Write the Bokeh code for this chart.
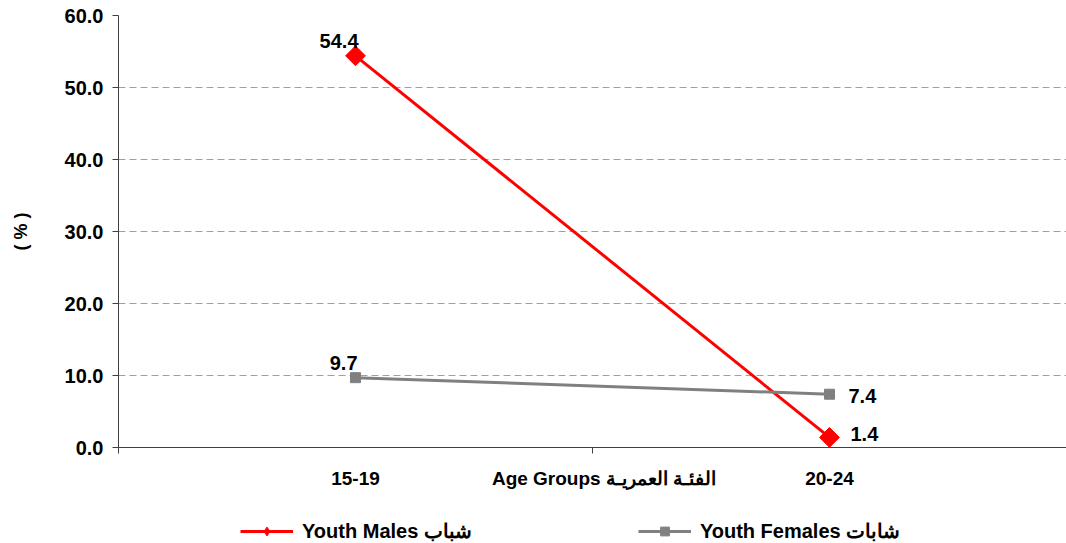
import math
from bokeh.plotting import figure
from bokeh.layouts import column
from bokeh.models import Range1d, FixedTicker, Label, Legend, LegendItem, NumeralTickFormatter
from bokeh.embed import file_html
from bokeh.resources import INLINE

categories = ["15-19", "20-24"]
males = [54.4, 1.4]
females = [9.7, 7.4]
y_ticks = [0, 10, 20, 30, 40, 50, 60]
x_title = "Age Groups  الفئـة العمريـة"
y_title = "( % )"
males_name = "Youth Males شباب"
females_name = "Youth Females شابات"

FONT = "Liberation Sans"
RED = "#FF0000"
GREY = "#808080"
x = [i + 0.5 for i in range(len(categories))]
bounds = list(range(len(categories) + 1))
title_pos = len(categories) / 2 + 0.03

p = figure(width=1066, height=503, output_backend="svg", toolbar_location=None,
           x_range=Range1d(0, len(categories)), y_range=Range1d(0, 60),
           min_border_left=118, min_border_top=15, min_border_right=0, min_border_bottom=56)
p.outline_line_color = None

# y axis
p.yaxis.ticker = FixedTicker(ticks=y_ticks)
p.yaxis.formatter = NumeralTickFormatter(format="0.0")
p.yaxis.axis_label = y_title
p.yaxis.axis_label_text_font = FONT
p.yaxis.axis_label_text_font_style = "bold"
p.yaxis.axis_label_text_font_size = "18px"
p.yaxis.axis_label_text_color = "black"
p.yaxis.axis_label_standoff = 31
p.yaxis.major_label_text_font = FONT
p.yaxis.major_label_text_font_style = "bold"
p.yaxis.major_label_text_font_size = "20px"
p.yaxis.major_label_text_color = "black"
p.yaxis.major_label_standoff = 9
p.yaxis.major_tick_out = 6
p.yaxis.major_tick_in = 0
p.yaxis.minor_tick_line_color = None
p.yaxis.axis_line_color = "#404040"
p.yaxis.major_tick_line_color = "#404040"

# x axis: category labels plus the axis title in the same row
p.xaxis.ticker = FixedTicker(ticks=x + [title_pos], minor_ticks=bounds)
overrides = {xi: c for xi, c in zip(x, categories)}
overrides[title_pos] = x_title
p.xaxis.major_label_overrides = overrides
p.xaxis.major_label_text_font = FONT
p.xaxis.major_label_text_font_style = "bold"
p.xaxis.major_label_text_font_size = "19px"
p.xaxis.major_label_text_color = "black"
p.xaxis.major_label_standoff = 14
p.xaxis.major_tick_out = 0
p.xaxis.major_tick_in = 0
p.xaxis.minor_tick_out = 6
p.xaxis.minor_tick_in = 0
p.xaxis.minor_tick_line_color = "#404040"
p.xaxis.axis_line_color = "#404040"

# grid
p.xgrid.grid_line_color = None
p.ygrid.ticker = FixedTicker(ticks=y_ticks[1:])
p.ygrid.grid_line_color = "#A0A0A0"
p.ygrid.grid_line_dash = "7 4"
p.ygrid.grid_line_width = 1

# series
def draw(fig, male_marker="square", male_angle=math.pi / 4):
    rm = fig.line(x, males, line_color=RED, line_width=3)
    sm = fig.scatter(x, males, marker=male_marker, angle=male_angle, size=14,
                     fill_color=RED, line_color=RED)
    rf = fig.line(x, females, line_color=GREY, line_width=3)
    sf = fig.scatter(x, females, marker="square", size=10,
                     fill_color=GREY, line_color=GREY)
    return rm, sm, rf, sf

draw(p)

def add_label(xv, yv, xo, yo, align, baseline):
    p.add_layout(Label(x=xv, y=yv, text=f"{yv:.1f}", x_offset=xo, y_offset=yo,
                       text_align=align, text_baseline=baseline,
                       text_font=FONT, text_font_style="bold",
                       text_font_size="20px", text_color="black"))

add_label(x[0], males[0], 3, 8, "right", "bottom")
add_label(x[0], females[0], 2, 8, "right", "bottom")
add_label(x[1], females[1], 19, -2, "left", "middle")
add_label(x[1], males[1], 21, 3, "left", "middle")

# legend strip below the chart (its glyphs lie outside its visible range)
lg = figure(width=1066, height=40, output_backend="svg", toolbar_location=None,
            x_range=Range1d(10, 11), y_range=Range1d(100, 101),
            min_border=0, outline_line_color=None)
lg.axis.visible = False
lg.grid.visible = False
rm, sm, rf, sf = draw(lg, male_marker="diamond", male_angle=0)
legend = Legend(items=[LegendItem(label=males_name, renderers=[rm, sm]),
                       LegendItem(label=females_name, renderers=[rf, sf])],
                orientation="horizontal", location=(122, 0),
                glyph_width=53, glyph_height=22, label_standoff=9, spacing=166,
                border_line_color=None, background_fill_alpha=0,
                label_text_font=FONT, label_text_font_style="bold",
                label_text_font_size="20px", label_text_color="black",
                padding=2, margin=0)
lg.add_layout(legend)

layout = column(p, lg, spacing=0)
open("out.html", "w").write(file_html(layout, INLINE))
